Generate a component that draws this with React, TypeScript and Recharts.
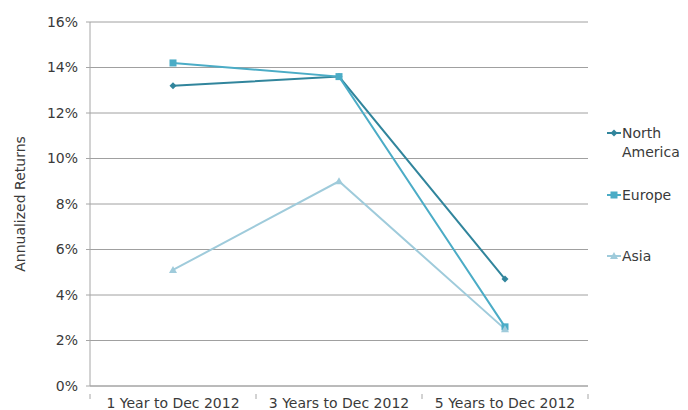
import { LineChart, Line, XAxis, YAxis, CartesianGrid } from "recharts";

const categories = ["1 Year to Dec 2012", "3 Years to Dec 2012", "5 Years to Dec 2012"];
const northAmerica = [13.2, 13.6, 4.7];
const europe = [14.2, 13.6, 2.6];
const asia = [5.1, 9.0, 2.5];
const yTicks = [0, 2, 4, 6, 8, 10, 12, 14, 16];

const data = categories.map((name, i) => ({
  name,
  na: northAmerica[i],
  eu: europe[i],
  as: asia[i],
}));

const FONT = "'DejaVu Sans', sans-serif";
const AXIS = "#a6a6a6";
const TEXT = "#3a3a3a";
const BAND = 498 / categories.length;

const series = [
  { key: "na", label: ["North", "America"], color: "#31859c", shape: "diamond" },
  { key: "eu", label: ["Europe"], color: "#4bacc6", shape: "square" },
  { key: "as", label: ["Asia"], color: "#9fcbdb", shape: "triangle" },
];

const Marker = ({ cx, cy, shape, color }: any) => {
  if (cx == null || cy == null) return null;
  if (shape === "square") return <rect x={cx - 3.5} y={cy - 3.5} width={7} height={7} fill={color} />;
  if (shape === "triangle")
    return <path d={`M${cx},${cy - 4} L${cx + 4},${cy + 3} L${cx - 4},${cy + 3} Z`} fill={color} />;
  return <path d={`M${cx},${cy - 3.5} L${cx + 3.5},${cy} L${cx},${cy + 3.5} L${cx - 3.5},${cy} Z`} fill={color} />;
};

const CategoryTick = ({ x, y, payload, index }: any) => (
  <g>
    <line x1={x - BAND / 2} y1={y} x2={x - BAND / 2} y2={y + 5} stroke={AXIS} />
    {index === categories.length - 1 && (
      <line x1={x + BAND / 2} y1={y} x2={x + BAND / 2} y2={y + 5} stroke={AXIS} />
    )}
    <text x={x} y={y + 14} textAnchor="middle" fontSize={14} fill={TEXT} fontFamily={FONT}>
      {payload.value}
    </text>
  </g>
);

// legend drawn beside the plot, same look as the excel legend
const LegendBox = () => (
  <svg width={88} height={200} style={{ position: "absolute", left: 600, top: 113, overflow: "visible" }}>
    {series.map((s, i) => {
      const y = 20 + [0, 62, 123][i];
      return (
        <g key={s.key}>
          <line x1={7} y1={y} x2={21} y2={y} stroke={s.color} strokeWidth={2} />
          <Marker cx={14} cy={y} shape={s.shape} color={s.color} />
          {s.label.map((t, j) => (
            <text key={t} x={22} y={y + 5 + j * 19} fontSize={14} fill={TEXT} fontFamily={FONT}>
              {t}
            </text>
          ))}
        </g>
      );
    })}
  </svg>
);

export default function App() {
  return (
    <div style={{ position: "absolute", left: 0, top: 0, width: 688, height: 410, background: "#fff" }}>
      <LineChart width={688} height={410} data={data} margin={{ top: 22, right: 100, bottom: 0, left: 0 }}>
        <CartesianGrid vertical={false} stroke="#a0a0a0" strokeWidth={1} />
        <XAxis
          dataKey="name"
          stroke={AXIS}
          tickLine={false}
          height={24}
          tick={<CategoryTick />}
          interval={0}
          padding={{ left: BAND / 2, right: BAND / 2 }}
        />
        <YAxis
          width={90}
          domain={[0, 16]}
          ticks={yTicks}
          stroke={AXIS}
          tickSize={4}
          tickMargin={8}
          tickFormatter={(v: number) => `${v}%`}
          tick={{ fontSize: 14, fill: TEXT, fontFamily: FONT }}
          label={{
            value: "Annualized Returns",
            angle: -90,
            position: "insideLeft",
            offset: 20,
            style: { textAnchor: "middle", fontSize: 14, fill: TEXT, fontFamily: FONT },
          }}
        />
        {series.map((s) => (
          <Line
            key={s.key}
            type="linear"
            dataKey={s.key}
            stroke={s.color}
            strokeWidth={2}
            isAnimationActive={false}
            dot={(p: any) => <Marker key={`${s.key}-${p.index}`} cx={p.cx} cy={p.cy} shape={s.shape} color={s.color} />}
            activeDot={false}
          />
        ))}
      </LineChart>
      <LegendBox />
    </div>
  );
}
